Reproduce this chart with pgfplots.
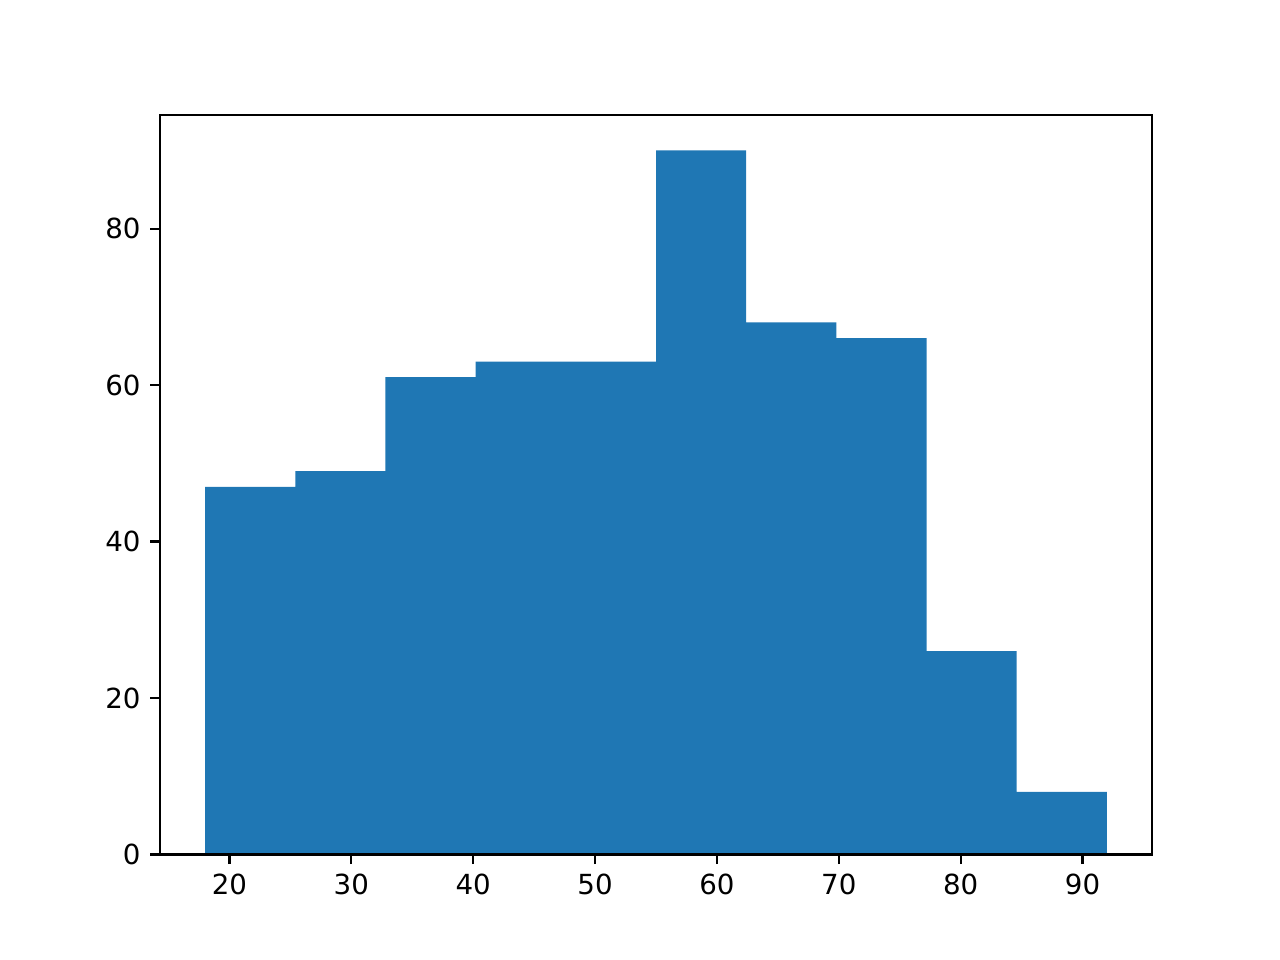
\documentclass[border=0pt]{standalone}
\usepackage{pgfplots}
\pgfplotsset{compat=1.18}
\usepackage{fontspec}
\setmainfont{DejaVu Sans}
\definecolor{mplblue}{HTML}{1F77B4}
\begin{document}
\begin{tikzpicture}
\path[use as bounding box] (0,0) rectangle (6.4in,4.8in);
\begin{axis}[
  at={(0.8in,0.528in)}, anchor=south west,
  scale only axis,
  width=4.96in, height=3.696in,
  xmin=14.3, xmax=95.7, ymin=0, ymax=94.5,
  xtick={20,30,...,90}, ytick={0,20,...,80},
  tick align=outside, xtick pos=bottom, ytick pos=left,
  major tick length=3.5pt,
  tick style={black, line width=0.8pt},
  axis line style={line width=0.8pt},
  /pgf/number format/assume math mode=true,
  ticklabel style={font=\fontsize{10pt}{12pt}\selectfont},
  axis on top,
]
\addplot[ybar interval, fill=mplblue, draw=none] coordinates {
(18,47) (25.4,49) (32.8,61) (40.2,63) (47.6,63) (55,90) (62.4,68) (69.8,66) (77.2,26) (84.6,8) (92,8)
};
\end{axis}
\end{tikzpicture}
\end{document}
